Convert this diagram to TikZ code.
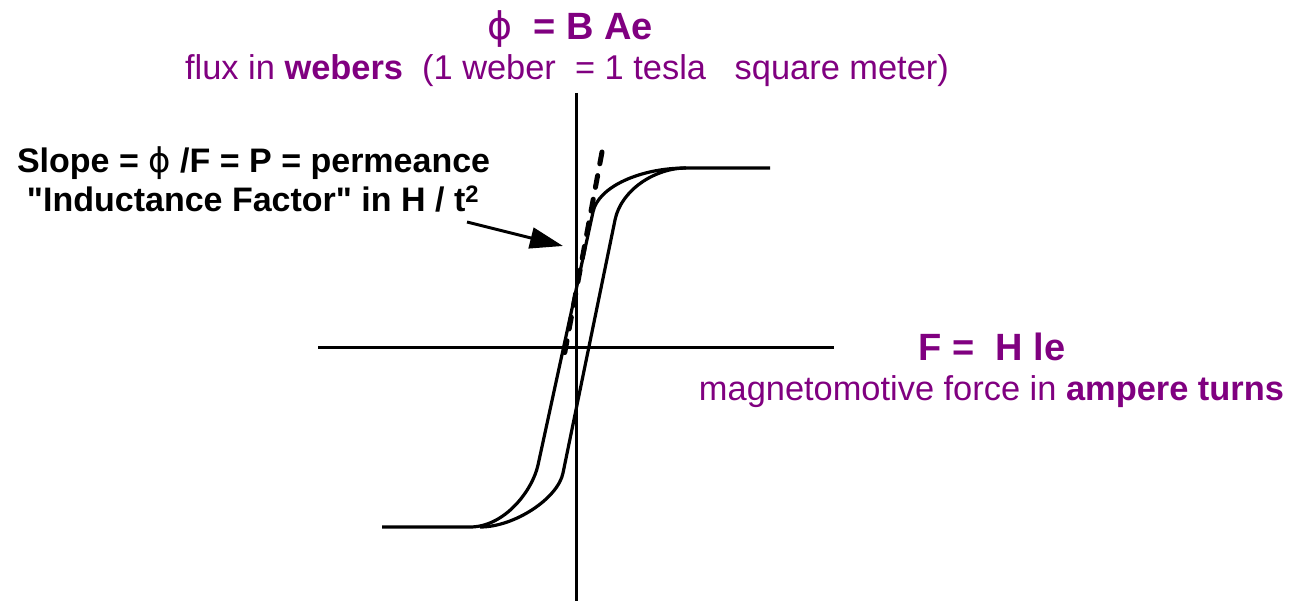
\documentclass[tikz,border=0pt]{standalone}
\usepackage{fontspec}
\setmainfont{Liberation Sans}
\newfontfamily\dejavu{DejaVu Sans}
\usetikzlibrary{arrows.meta}
\definecolor{mpurple}{RGB}{128,0,128}
\newcommand{\phisym}{{\dejavu\mdseries ϕ}}
\newcommand{\sq}{{\addfontfeature{Ligatures=TeXOff}"}}
\begin{document}
\begin{tikzpicture}[x=1pt,y=-1pt,
  txt/.style={inner sep=0pt,outer sep=0pt},
  big/.style={txt,font=\fontsize{38}{44}\selectfont\bfseries,text=mpurple},
  sub/.style={txt,font=\fontsize{34.4}{40}\selectfont,text=mpurple},
  blk/.style={txt,font=\fontsize{34}{40}\selectfont\bfseries,text=black},
  axisline/.style={line width=3pt},
  loopline/.style={line width=3.2pt,line join=round},
  tangent/.style={line width=5pt,line cap=round,dash pattern=on 12pt off 12pt},
  pointer/.style={line width=3pt,-{Triangle[length=33pt,width=21pt]}}]
\useasboundingbox (0,0) rectangle (1290,601);
% axes
\coordinate (xl) at (318,348);
\coordinate (xr) at (834,348);
\coordinate (yt) at (576,93);
\coordinate (yb) at (576,601);
\draw[axisline] (xl) -- (xr);
\draw[axisline] (yt) -- (yb);
% hysteresis loop
\coordinate (tr) at (770,168);
\coordinate (tj) at (686,168);
\coordinate (bl) at (382,527);
\draw[loopline] (tr) -- (tj)
  .. controls (640,168) and (598,187) .. (593,212)
  -- (538,465)
  .. controls (532.6,490) and (505,527) .. (470,527)
  -- (bl);
\draw[loopline] (tj)
  .. controls (655,168) and (621,190) .. (615,220)
  -- (563,473)
  .. controls (558,498) and (515,527) .. (480,527);
% tangent (slope)
\coordinate (ta) at (602,152);
\coordinate (tb) at (563,362);
\draw[tangent] (ta) -- (tb);
% texts
\node[big,anchor=base] (phi) at (570,40) {\phisym\ \ = B Ae};
\node[sub,anchor=base] (flux) at (567,80) {flux in \textbf{webers}\ \ (1 weber\ \ = 1 tesla\ \ \ square meter)};
\node[blk,anchor=base west] (slope) at (17,173) {Slope = \phisym\ /F = P = permeance};
\node[blk,anchor=base west] (induct) at (27,212) {\sq Inductance Factor\sq\ in H / t\textsuperscript{2}};
\node[big,anchor=base] (fmmf) at (992,360) {F =\ \ H le};
\node[sub,anchor=base] (mmf) at (991.5,400) {magnetomotive force in \textbf{ampere turns}};
% arrow
\coordinate (as) at (467,222);
\coordinate (at) at (563,246);
\draw[pointer] (as) -- (at);
\end{tikzpicture}
\end{document}
